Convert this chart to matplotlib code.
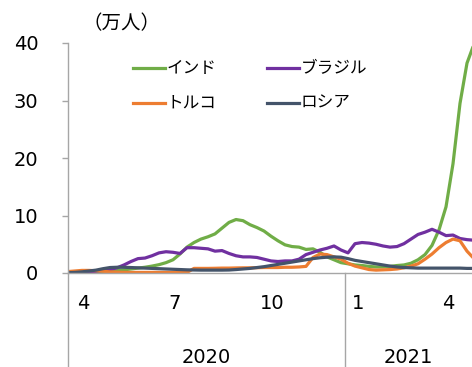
import matplotlib
matplotlib.use("Agg")
import matplotlib.pyplot as plt
import matplotlib.dates as mdates
from matplotlib.lines import Line2D
import pandas as pd

plt.rcParams['font.family'] = ['DejaVu Sans', 'Noto Sans CJK JP']

# weekly points of the 7-day average of new cases (万人)
dates = pd.date_range("2020-03-30", periods=59, freq="7D")

india = [0.0, 0.02, 0.05, 0.1, 0.15, 0.22, 0.3, 0.4, 0.55, 0.7,
         0.85, 1.0, 1.2, 1.45, 1.8, 2.3, 3.3, 4.5, 5.3, 5.9,
         6.3, 6.8, 7.8, 8.8, 9.3, 9.1, 8.4, 7.9, 7.3, 6.4,
         5.6, 4.9, 4.6, 4.5, 4.1, 4.2, 3.6, 2.8, 2.3, 1.8,
         1.6, 1.4, 1.3, 1.15, 1.05, 1.05, 1.15, 1.3, 1.4, 1.7,
         2.3, 3.2, 4.8, 7.5, 11.5, 19.0, 29.5, 36.5, 39.8]

brazil = [0.05, 0.1, 0.15, 0.2, 0.3, 0.45, 0.6, 0.9, 1.4, 2.0,
          2.5, 2.6, 3.0, 3.5, 3.7, 3.6, 3.4, 4.4, 4.4, 4.3,
          4.2, 3.8, 3.9, 3.4, 3.0, 2.8, 2.8, 2.7, 2.4, 2.1,
          2.0, 2.1, 2.1, 2.4, 3.2, 3.6, 4.0, 4.3, 4.7, 4.0,
          3.5, 5.1, 5.3, 5.2, 5.0, 4.7, 4.5, 4.6, 5.1, 5.9,
          6.7, 7.1, 7.6, 7.1, 6.5, 6.6, 6.0, 5.8, 5.7]

turkey = [0.25, 0.35, 0.45, 0.45, 0.4, 0.3, 0.2, 0.15, 0.12, 0.1,
          0.1, 0.1, 0.1, 0.1, 0.1, 0.1, 0.1, 0.1, 0.8, 0.8,
          0.8, 0.82, 0.85, 0.85, 0.88, 0.9, 0.9, 0.92, 0.95, 0.95,
          0.95, 1.0, 1.0, 1.05, 1.15, 2.7, 3.3, 3.2, 2.8, 2.4,
          1.7, 1.2, 0.9, 0.6, 0.5, 0.55, 0.6, 0.7, 0.9, 1.2,
          1.6, 2.4, 3.3, 4.4, 5.3, 5.9, 5.6, 3.8, 2.5]

russia = [0.05, 0.1, 0.2, 0.35, 0.5, 0.75, 0.95, 1.0, 1.0, 0.95,
          0.9, 0.85, 0.8, 0.75, 0.7, 0.65, 0.6, 0.55, 0.52, 0.5,
          0.5, 0.5, 0.5, 0.52, 0.6, 0.7, 0.8, 0.95, 1.1, 1.3,
          1.5, 1.7, 1.9, 2.1, 2.3, 2.5, 2.65, 2.75, 2.8, 2.75,
          2.5, 2.2, 2.0, 1.8, 1.6, 1.4, 1.2, 1.05, 0.95, 0.9,
          0.85, 0.85, 0.85, 0.85, 0.85, 0.85, 0.85, 0.8, 0.8]

names = ["インド", "ブラジル", "トルコ", "ロシア"]
colors = ["#70AD47", "#7030A0", "#ED7D31", "#44546A"]

month_starts = ["2020-04-01", "2020-07-01", "2020-10-01", "2021-01-01", "2021-04-01"]
month_labels = ["4", "7", "10", "1", "4"]
years = ["2020", "2021"]

gray = "#A6A6A6"
W, H = 472, 367
LW = 2.3

fig = plt.figure(figsize=(W / 100, H / 100), dpi=100)
ax = fig.add_axes([68 / W, 94 / H, 404 / W, 230 / H])

for vals, c in zip([india, brazil, turkey, russia], colors):
    ax.plot(dates, vals, color=c, lw=LW, solid_capstyle="round")

x0 = pd.Timestamp("2020-03-30")
x1 = x0 + pd.Timedelta(days=404)
ax.set_xlim(x0, x1)
ax.set_ylim(0, 40)
ax.set_yticks([0, 10, 20, 30, 40])
ax.set_xticks([])
for s in ["top", "right"]:
    ax.spines[s].set_visible(False)
for s in ["left", "bottom"]:
    ax.spines[s].set_color(gray)
    ax.spines[s].set_linewidth(1)
ax.tick_params(axis="y", length=4.3, color=gray, width=1, pad=17, labelsize=14)

xt = ax.get_xaxis_transform()

# month labels and year groups under the axis
for d, lab in zip(month_starts, month_labels):
    ax.annotate(lab, xy=(mdates.date2num(pd.Timestamp(d)), 0), xycoords=xt,
                xytext=(5, -22), textcoords="offset points",
                ha="left", va="center", fontsize=14)

jan = pd.Timestamp("2021-01-01")
for (a, b), yr in zip([(x0, jan), (jan, x1)], years):
    mid = mdates.date2num(a) + (mdates.date2num(b) - mdates.date2num(a)) / 2
    ax.annotate(yr, xy=(mid, 0), xycoords=xt, xytext=(0, -60.5),
                textcoords="offset points", ha="center", va="center", fontsize=14)

for d in [x0, jan]:
    xv = mdates.date2num(d)
    ax.plot([xv, xv], [0, -0.45], transform=xt, color=gray, lw=1, clip_on=False)

fig.text(122 / W, 1 - 24 / H, "（万人）", ha="center", va="center", fontsize=14)

# legend
spots = [(133, 68), (267, 68), (133, 103), (267, 103)]
for (px, py), name, c in zip(spots, names, colors):
    yy = 1 - py / H
    fig.add_artist(Line2D([px / W, (px + 32) / W], [yy, yy], color=c, lw=LW))
    fig.text((px + 34) / W, yy, name, ha="left", va="center", fontsize=12)

fig.savefig("out.png", dpi=100)
